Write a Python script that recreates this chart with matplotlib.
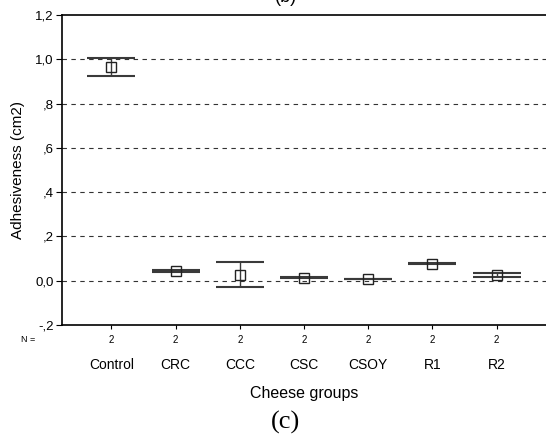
import numpy as np
import matplotlib.pyplot as plt

# values
groups = ["Control", "CRC", "CCC", "CSC", "CSOY", "R1", "R2"]
n_obs = [2, 2, 2, 2, 2, 2, 2]
mean_vals = [0.963, 0.043, 0.027, 0.014, 0.008, 0.077, 0.026]
low_vals = [0.924, 0.039, -0.030, 0.012, 0.006, 0.074, 0.018]
high_vals = [1.007, 0.047, 0.084, 0.016, 0.010, 0.080, 0.033]
y_ticks = [-0.2, 0.0, 0.2, 0.4, 0.6, 0.8, 1.0, 1.2]
y_tick_labels = ["-,2", "0,0", ",2", ",4", ",6", ",8", "1,0", "1,2"]

plt.rcParams["font.family"] = ["Liberation Sans", "DejaVu Sans"]

fig = plt.figure(figsize=(5.46, 4.36), dpi=100)
ax = fig.add_axes([62 / 546, 1 - 325 / 436, 1 - 62 / 546, 310 / 436])

x = np.arange(1, len(groups) + 1)
mean = np.array(mean_vals)
yerr = [mean - np.array(low_vals), np.array(high_vals) - mean]

# dashed reference lines
for yt in y_ticks[1:-1]:
    ax.axhline(yt, color="#333333", lw=0.8, ls=(0, (4, 4)), zorder=1)

ax.errorbar(x, mean, yerr=yerr, fmt="none", ecolor="#3a3a3a",
            elinewidth=1.0, capsize=17.5, capthick=1.5, zorder=2)
ax.plot(x, mean, ls="none", marker="s", markersize=7, mfc="none",
        mec="#222222", mew=1.0, zorder=3)

ax.set_xlim(0.23, 7.77)
ax.set_ylim(-0.2, 1.2)
ax.set_yticks(y_ticks)
ax.set_yticklabels(y_tick_labels, fontsize=9.5)
ax.set_xticks(x)
ax.set_xticklabels(groups, fontsize=10)
ax.tick_params(axis="x", length=3, pad=21)
ax.tick_params(axis="y", length=4, pad=2)

for side in ["left", "bottom", "top"]:
    ax.spines[side].set_linewidth(1.2)
ax.spines["right"].set_visible(False)

# N row
ax.text(-0.085, -0.048, "N =", transform=ax.transAxes, fontsize=6.5,
        ha="left", va="center")
for xi, n in zip(x, n_obs):
    ax.text(xi, -0.2 - 0.048 * 1.4, str(n), fontsize=7, ha="center",
            va="center")

ax.set_ylabel("Adhesiveness (cm2)", fontsize=11, labelpad=7)
ax.set_xlabel("Cheese groups", fontsize=11.5, labelpad=10)

fig.text(0.522, 0.032, "(c)", fontsize=19, ha="center", va="center",
         family="Liberation Serif")
fig.text(0.524, 1 - 2 / 436, "(b)", fontsize=13, ha="center",
         va="baseline", family="Liberation Sans")

fig.savefig("out.png", dpi=100)
